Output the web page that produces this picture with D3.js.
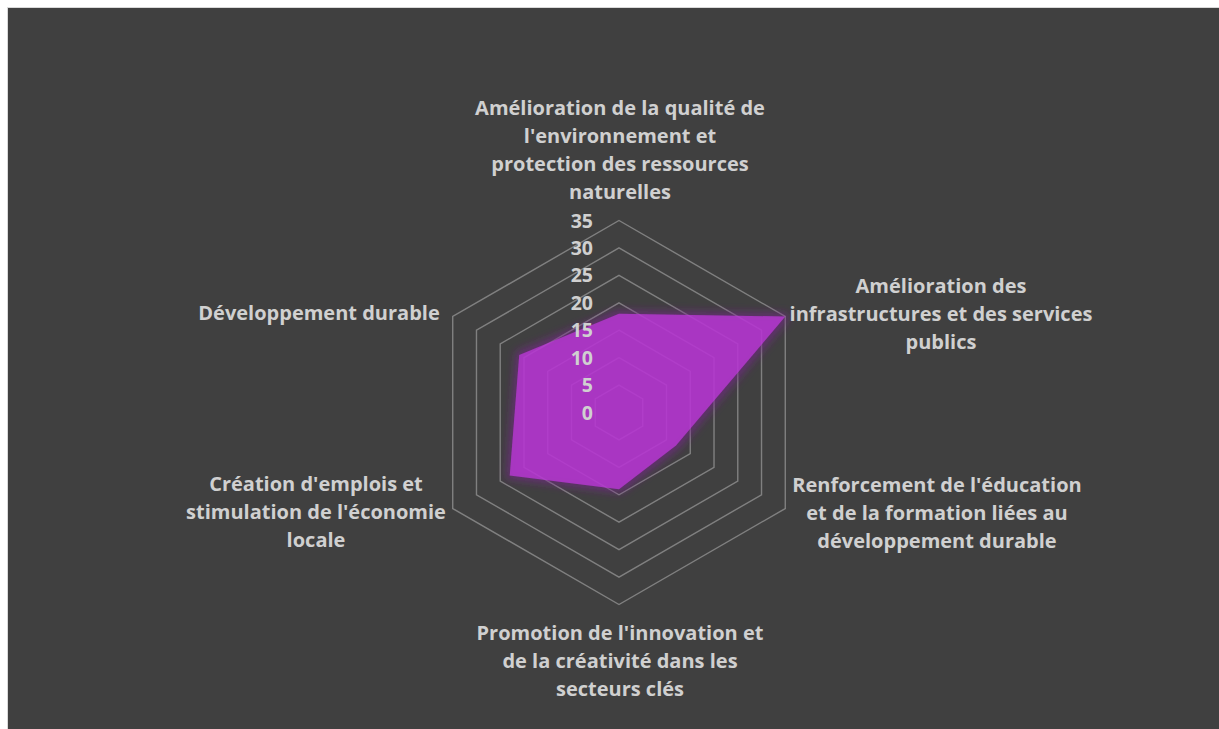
<!DOCTYPE html>
<html>
<head>
<meta charset="utf-8">
<script src="https://cdn.jsdelivr.net/npm/d3@7"></script>
<style>
  html, body { margin: 0; padding: 0; background: #ffffff; }
  svg { display: block; }
  text { font-family: "Open Sans", Lato, sans-serif; font-weight: 700; fill: #d0d0d0; }
</style>
</head>
<body>
<svg id="chart" width="1219" height="729"></svg>
<script>
// Axis categories (each split into its displayed lines)
const categories = [
  ["Amélioration de la qualité de", "l'environnement et", "protection des ressources", "naturelles"],
  ["Amélioration des", "infrastructures et des services", "publics"],
  ["Renforcement de l'éducation", "et de la formation liées au", "développement durable"],
  ["Promotion de l'innovation et", "de la créativité dans les", "secteurs clés"],
  ["Création d'emplois et", "stimulation de l'économie", "locale"],
  ["Développement durable"]
];
const values = [18, 35, 12, 14, 23, 21];
const tickValues = [0, 5, 10, 15, 20, 25, 30, 35];

const W = 1219, H = 729;
const cx = 619, cy = 412.5, R = 192;
const svg = d3.select("#chart");

// Chart area with thin light border
svg.append("rect").attr("x", 7.5).attr("y", 7.5).attr("width", W).attr("height", H)
  .attr("fill", "#404040").attr("stroke", "#d9d9d9").attr("stroke-width", 1);

const n = categories.length;
const r = d3.scaleLinear().domain([0, 35]).range([0, R]);
const angle = d3.scaleLinear().domain([0, n]).range([0, 2 * Math.PI]);
const pt = (i, v) => [cx + r(v) * Math.sin(angle(i)), cy - r(v) * Math.cos(angle(i))];

// Glow filter for the series area
const defs = svg.append("defs");
const f = defs.append("filter").attr("id", "glow")
  .attr("x", "-20%").attr("y", "-20%").attr("width", "140%").attr("height", "140%");
f.append("feMorphology").attr("in", "SourceAlpha").attr("operator", "dilate").attr("radius", 3).attr("result", "dil");
f.append("feGaussianBlur").attr("in", "dil").attr("stdDeviation", 4).attr("result", "blur");
f.append("feFlood").attr("flood-color", "#7a2490").attr("flood-opacity", 0.9);
f.append("feComposite").attr("in2", "blur").attr("operator", "in").attr("result", "glowC");
const fm = f.append("feMerge");
fm.append("feMergeNode").attr("in", "glowC");
fm.append("feMergeNode").attr("in", "SourceGraphic");

// Hexagonal gridlines
const grid = svg.append("g");
tickValues.filter(t => t > 0).forEach(t => {
  grid.append("polygon")
    .attr("points", d3.range(n).map(i => pt(i, t).join(",")).join(" "))
    .attr("fill", "none").attr("stroke", "#808080").attr("stroke-width", 1.4);
});

// Series area
const line = d3.line().curve(d3.curveLinearClosed);
svg.append("path")
  .attr("d", line(values.map((v, i) => pt(i, v))))
  .attr("fill", "rgb(194,57,224)").attr("fill-opacity", 0.7)
  .attr("filter", "url(#glow)");

// Radial tick labels
svg.append("g").selectAll("text").data(tickValues).join("text")
  .attr("x", cx - 26).attr("y", d => cy - r(d))
  .attr("dy", "0.36em").attr("text-anchor", "end")
  .style("font-size", "19.5px").text(d => d);

// Category labels
const labelPos = [
  { x: 620, y: 108 },
  { x: 941, y: 286 },
  { x: 937, y: 485 },
  { x: 620, y: 633 },
  { x: 316, y: 484 },
  { x: 319, y: 313 }
];
const lh = 28;
const lab = svg.append("g").selectAll("text").data(categories).join("text")
  .attr("text-anchor", "middle")
  .style("font-size", "20px");
lab.each(function(lines, i) {
  const t = d3.select(this);
  lines.forEach((s, k) => {
    t.append("tspan").attr("x", labelPos[i].x).attr("y", labelPos[i].y + k * lh)
      .attr("dy", "0.36em").text(s);
  });
});
</script>
</body>
</html>
